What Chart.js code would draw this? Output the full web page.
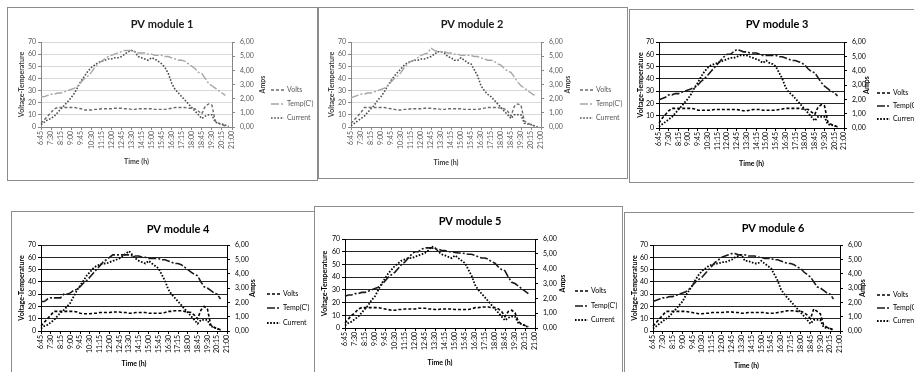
<!DOCTYPE html>
<html>
<head>
<meta charset="utf-8">
<script src="https://cdn.jsdelivr.net/npm/chart.js@4.4.1/dist/chart.umd.min.js"></script>
<style>
  html, body { margin: 0; padding: 0; background: #fff; width: 914px; height: 372px; overflow: hidden; }
  .panel { position: absolute; box-sizing: border-box; border: 1px solid #8c8c8c; background: #fff; }
  .panel canvas { position: absolute; left: 0; top: 0; }
</style>
</head>
<body>
<script>
// Time of day, one reading every 15 minutes
const times = ['6:45','7:00','7:15','7:30','7:45','8:00','8:15','8:30','8:45','9:00',
  '9:15','9:30','9:45','10:00','10:15','10:30','10:45','11:00','11:15','11:30',
  '11:45','12:00','12:15','12:30','12:45','13:00','13:15','13:30','13:45','14:00',
  '14:15','14:30','14:45','15:00','15:15','15:30','15:45','16:00','16:15','16:30',
  '16:45','17:00','17:15','17:30','17:45','18:00','18:15','18:30','18:45','19:00',
  '19:15','19:30','19:45','20:00','20:15','20:30','20:45','21:00'];

const voltTempTicks = [0, 10, 20, 30, 40, 50, 60, 70];
const ampTickLabels = ['0,00', '1,00', '2,00', '3,00', '4,00', '5,00', '6,00'];

// PV module 1
const volts1 = [3,6,9,12,15,16,16,16,16,16,16,15.5,15,14,14,14,14.5,14.5,15,15,15,15,15.5,15.5,15.5,15,15,14.5,14.5,15,15,15,15,15,14.5,14.5,14.5,14.5,15,15.5,16,16,16,16,15.5,15.5,15,13,11,17,19,18,5,3,2,1,null,null];
const temp1 = [25,25,26,27,27,28,28,29,30,31,32,34,37,40,42,45,49,52,54,56,58,59,60,61,62,63,63,63,62,61,61,61,60,60,59,59,59,58,58,57,56,55,55,54,52,50,48,45,44,40,36,34,32,30,28,26,null,null];
const current1 = [0.17,0.34,0.51,0.60,0.77,1.03,1.29,1.54,1.80,2.06,2.40,2.83,3.26,3.60,3.94,4.20,4.37,4.54,4.63,4.71,4.80,4.80,4.89,4.89,4.97,5.14,5.31,5.40,5.31,4.97,4.89,4.80,4.71,4.89,4.80,4.63,4.46,4.20,3.77,3.09,2.66,2.40,2.14,1.89,1.63,1.37,1.11,0.86,0.60,0.77,0.86,0.86,0.34,0.26,0.21,0.13,0.04,null];

// PV module 2
const volts2 = [3,6,9,12,16,16,16,16,16,16,16,15.5,15,14.5,14,14,14.5,14.5,15,15,15,15,15.5,15.5,15.5,15,15,14.5,14.5,15,15,15,15,15,14.5,14.5,14.5,14.5,14.5,15,15.5,16,16,16,16,15.5,15,13,9,17,19,18,5,3,2,1,null,null];
const temp2 = [24,25,26,27,27,28,28,29,30,31,32,34,37,40,42,45,49,52,54,55,57,59,60,61,65,63,62,62,62,61,61,60,60,59,59,59,59,58,58,57,56,55,55,54,52,51,48,46,45,41,37,34,32,30,28,26,null,null];
const current2 = [0.09,0.26,0.43,0.60,0.77,1.03,1.29,1.54,1.89,2.14,2.49,2.91,3.26,3.60,3.86,4.11,4.37,4.54,4.63,4.71,4.71,4.80,4.80,4.89,4.97,5.14,5.31,5.31,5.23,4.97,4.89,4.71,4.71,4.89,4.71,4.54,4.46,4.03,3.60,2.91,2.57,2.31,2.14,1.89,1.63,1.37,1.11,0.86,0.60,0.86,0.86,0.86,0.26,0.21,0.17,0.09,0.00,null];

// PV module 3
const volts3 = [4,8,11,14,16,16,16,16,16,16,16,15.5,14.5,14.5,14.5,14.5,14.5,15,15,15,15,15,15,15,15,14.5,14,14,14.5,15,15,15,14.5,14.5,14.5,14.5,14.5,15,15.5,16,16,16,16,16,15.5,15.5,15,13,11,17,19,18,5,3,2,1,null,null];
const temp3 = [23,24,25,27,27,28,28,29,30,31,32,33,35,38,40,43,46,49,52,55,58,60,60,62,64,63,62,62,61,61,61,60,59,59,59,59,59,58,58,57,56,55,55,54,53,51,48,46,45,41,37,34,32,30,29,26,null,null];
const current3 = [0.09,0.26,0.43,0.60,0.77,1.03,1.29,1.54,1.80,2.06,2.40,2.83,3.17,3.60,3.94,4.20,4.37,4.46,4.54,4.63,4.71,4.80,4.89,4.89,4.97,5.06,5.06,5.06,4.97,4.89,4.80,4.71,4.54,4.71,4.54,4.46,4.29,3.86,3.43,2.83,2.49,2.31,2.06,1.80,1.54,1.29,1.03,0.77,0.51,0.77,0.77,0.77,0.26,0.21,0.17,0.04,null,null];

// PV module 4
const volts4 = [4,7,10,13,16,16,16,16,16,16,16,15.5,14.5,14,14,14,14.5,14.5,15,15,15,15,15.5,15.5,15.5,15,15,14.5,14.5,15,15,15,15,14.5,14.5,14.5,14.5,14.5,15,16,16,16.5,16.5,16.5,16,15.5,15,13,10,17,20,18,5,3,2,1,null,null];
const temp4 = [24,24,26,27,27,27,27,30,30,31,33,34,36,39,41,44,47,50,53,56,58,60,62,62,62,62,62,62,61,61,61,60,60,59,59,59,59,58,58,57,56,55,55,54,52,50,48,46,45,40,36,35,33,31,30,26,null,null];
const current4 = [0.17,0.34,0.43,0.60,0.77,1.03,1.29,1.46,1.71,1.97,2.40,2.83,3.17,3.51,3.86,4.11,4.37,4.54,4.63,4.71,4.71,4.80,4.89,4.97,5.06,5.23,5.40,5.57,5.31,5.06,4.89,4.80,4.71,4.89,4.71,4.54,4.37,3.94,3.51,2.91,2.57,2.31,2.06,1.80,1.54,1.29,1.03,0.77,0.51,0.77,0.77,0.77,0.34,0.26,0.17,0.04,null,null];

// PV module 5
const volts5 = [4,7,10,12,15,16,16,16,16,16,16,15.5,15,14.5,14,14,14.5,14.5,15,15,15,15,15.5,15.5,15.5,15,15,14.5,14.5,15,15,15,15,14.5,14.5,14.5,14.5,14.5,15,16,16,16.5,16.5,16.5,16,16,15,13,9,13,14,12,5,3,2,1,null,null];
const temp5 = [25,26,26,27,27,28,28,29,30,31,32,34,37,40,42,44,47,50,52,55,58,60,60,62,63,63,63,62,62,61,61,60,60,59.5,59,59,58.5,58,58,57,56,55,55,54,52,51,48,46,45,40,36,35,33,31,29,27,null,null];
const current5 = [0.17,0.34,0.43,0.60,0.77,1.03,1.29,1.54,1.89,2.14,2.57,3.00,3.34,3.69,3.94,4.20,4.37,4.54,4.63,4.71,4.71,4.80,4.89,4.97,5.06,5.23,5.49,5.40,5.14,4.97,4.89,4.80,4.71,4.89,4.71,4.54,4.37,3.94,3.51,2.91,2.57,2.31,2.06,1.80,1.54,1.29,1.03,0.77,0.51,0.69,0.77,0.77,0.34,0.26,0.17,0.04,null,null];

// PV module 6
const volts6 = [4,7,10,13,16,16,16,16,16,16,16,15.5,15,14.5,14,14,14.5,14.5,15,15,15,15,15.5,15.5,15.5,15,15,14.5,14.5,15,15,15,15,15,15,14.5,14.5,14.5,15,15.5,16,16.5,16.5,16.5,16,16,15,13,10,18,16,14,5,3,2,1,null,null];
const temp6 = [24,25,26,27,27,28,28,29,30,31,32,34,37,40,42,44,47,50,53,56,58,60,61,62,63,63,62,62,62,61,61,61,60,60,59,59,59,58,58,57,56,55,55,54,52,51,48,46,44,40,36,35,33,31,30,26,null,null];
const current6 = [0.17,0.34,0.51,0.69,0.86,1.03,1.29,1.54,1.80,2.06,2.49,2.83,3.17,3.60,3.94,4.20,4.37,4.54,4.63,4.71,4.71,4.80,4.80,4.89,4.97,5.14,5.23,5.31,4.89,4.89,4.80,4.71,4.71,4.89,4.71,4.54,4.37,3.94,3.51,2.91,2.57,2.31,2.06,1.80,1.54,1.29,1.03,0.77,0.51,0.77,0.77,0.77,0.26,0.21,0.17,0.04,null,null];

const moduleTitles = ['PV module 1', 'PV module 2', 'PV module 3', 'PV module 4', 'PV module 5', 'PV module 6'];
const seriesLabels = ['Volts', "Temp(C')", 'Current'];

// Page layout of each panel (page pixels)
const layouts = [
  { box: [7, 7, 311, 174],    plot: [41, 232, 42, 127],   title: [162, 24],  yTitleX: 22,  ampsX: 263, legendX: 271, legendY: [90, 104, 118],  timeY: 162, theme: 'light' },
  { box: [318, 7, 310, 172],  plot: [351, 541, 42, 127],  title: [472, 24],  yTitleX: 332, ampsX: 568, legendX: 580, legendY: [90, 104, 118],  timeY: 163, theme: 'light' },
  { box: [629, 9, 310, 174],  plot: [659, 844, 42, 128],  title: [777, 24],  yTitleX: 641, ampsX: 867, legendX: 877, legendY: [93, 106, 119],  timeY: 164, theme: 'dark' },
  { box: [11, 211, 310, 175], plot: [41, 227, 245, 331],  title: [178, 229], yTitleX: 22,  ampsX: 253, legendX: 267, legendY: [294, 308, 323], timeY: 364, theme: 'dark' },
  { box: [314, 206, 309, 175], plot: [345, 535, 239, 328], title: [470, 221], yTitleX: 325, ampsX: 563, legendX: 575, legendY: [291, 306, 320], timeY: 363, theme: 'dark' },
  { box: [624, 212, 310, 175], plot: [653, 840, 245, 331], title: [773, 228], yTitleX: 635, ampsX: 863, legendX: 877, legendY: [295, 308, 321], timeY: 366, theme: 'dark' }
];

const themes = {
  light: { grid: '#d9d9d9', axis: '#868686', text: '#595959', title: '#1a1a1a', axisTitle: '#404040',
           volts: '#6b6b6b', temp: '#a6a6a6', current: '#4d4d4d', width: 1.4 },
  dark:  { grid: '#262626', axis: '#000000', text: '#000000', title: '#000000', axisTitle: '#000000',
           volts: '#000000', temp: '#1a1a1a', current: '#000000', width: 1.6 }
};

const FONT = "Lato, 'Open Sans', sans-serif";

// Title, secondary axis caption and the legend of each panel
const panelDecor = {
  id: 'panelDecor',
  afterDraw(chart, args, o) {
    const ctx = chart.ctx;
    const area = chart.chartArea;
    ctx.save();
    ctx.textBaseline = 'middle';
    ctx.textAlign = 'center';
    ctx.fillStyle = o.titleColor;
    ctx.font = 'bold 11px ' + FONT;
    ctx.fillText(o.title, o.titleX, o.titleY);

    ctx.save();
    ctx.translate(o.ampsX, (area.top + area.bottom) / 2);
    ctx.rotate(-Math.PI / 2);
    ctx.fillStyle = o.axisTitleColor;
    ctx.font = 'bold 7px ' + FONT;
    ctx.fillText('Amps', 0, 0);
    ctx.restore();

    chart.data.datasets.forEach((ds, i) => {
      const y = o.legendY[i];
      ctx.strokeStyle = ds.borderColor;
      ctx.lineWidth = ds.borderWidth;
      ctx.setLineDash(ds.borderDash || []);
      ctx.beginPath();
      ctx.moveTo(o.legendX, y);
      ctx.lineTo(o.legendX + 13, y);
      ctx.stroke();
      ctx.setLineDash([]);
      ctx.textAlign = 'left';
      ctx.fillStyle = o.legendColor;
      ctx.font = '7px ' + FONT;
      ctx.fillText(ds.label, o.legendX + 16, y);
    });
    ctx.restore();
  }
};

const seriesSets = [
  [volts1, temp1, current1],
  [volts2, temp2, current2],
  [volts3, temp3, current3],
  [volts4, temp4, current4],
  [volts5, temp5, current5],
  [volts6, temp6, current6]
];

layouts.forEach((L, k) => {
  const th = themes[L.theme];
  const [bx, by, bw, bh] = L.box;
  const ox = bx + 1, oy = by + 1;
  const W = bw - 2, H = bh - 2;
  const pl = L.plot[0] - ox, pr = L.plot[1] - ox, pt = L.plot[2] - oy, pb = L.plot[3] - oy;
  const yr = L.ampsX - L.plot[1] + 6;
  const xh = L.timeY - L.plot[3] + 4.2;

  const div = document.createElement('div');
  div.className = 'panel';
  div.style.left = bx + 'px';
  div.style.top = by + 'px';
  div.style.width = bw + 'px';
  div.style.height = bh + 'px';
  const cv = document.createElement('canvas');
  cv.width = W; cv.height = H;
  cv.style.width = W + 'px'; cv.style.height = H + 'px';
  div.appendChild(cv);
  document.body.appendChild(div);

  const [v, t, c] = seriesSets[k];
  const tickFont = { family: FONT, size: 7 };
  const titleFont = { family: FONT, size: 7, weight: 'bold' };

  new Chart(cv, {
    type: 'line',
    data: {
      labels: times,
      datasets: [
        { label: seriesLabels[0], data: v, yAxisID: 'y', borderColor: th.volts, borderWidth: th.width, borderDash: [3, 2] },
        { label: seriesLabels[1], data: t, yAxisID: 'y', borderColor: th.temp, borderWidth: th.width, borderDash: [8, 2, 2, 2] },
        { label: seriesLabels[2], data: c, yAxisID: 'y1', borderColor: th.current, borderWidth: th.width + 0.2, borderDash: [1.6, 1.6] }
      ]
    },
    options: {
      responsive: false,
      animation: false,
      devicePixelRatio: 1,
      elements: { point: { radius: 0 }, line: { tension: 0, fill: false } },
      layout: { padding: { left: 0, top: pt, right: W - pr - yr, bottom: H - pb - xh } },
      plugins: {
        legend: { display: false },
        title: { display: false },
        tooltip: { enabled: false },
        panelDecor: {
          title: moduleTitles[k], titleX: L.title[0] - ox, titleY: L.title[1] - oy,
          ampsX: L.ampsX - ox, legendX: L.legendX - ox, legendY: L.legendY.map(y => y - oy),
          titleColor: th.title, axisTitleColor: th.axisTitle, legendColor: th.text
        }
      },
      scales: {
        x: {
          type: 'category',
          offset: false,
          grid: {
            drawOnChartArea: false, drawTicks: true, tickLength: 3,
            tickColor: (ctx) => (ctx.index % 3 === 0 ? th.axis : 'rgba(0,0,0,0)')
          },
          border: { color: th.axis, width: 1 },
          ticks: {
            autoSkip: false, minRotation: 90, maxRotation: 90, padding: 1,
            font: tickFont, color: th.text,
            callback: (val, i) => (i % 3 === 0 ? times[i] : '')
          },
          title: { display: true, text: 'Time (h)', font: titleFont, color: th.axisTitle, padding: { top: 0, bottom: 0 } },
          afterFit: (s) => { s.height = xh; }
        },
        y: {
          position: 'left',
          min: voltTempTicks[0],
          max: voltTempTicks[voltTempTicks.length - 1],
          ticks: { stepSize: 10, autoSkip: false, font: tickFont, color: th.text, padding: 2 },
          grid: { color: th.grid, lineWidth: 1, tickLength: 3, tickColor: th.axis },
          border: { color: th.axis, width: 1 },
          title: { display: true, text: 'Voltage-Temperature', font: titleFont, color: th.axisTitle,
                   padding: { top: L.yTitleX - ox - 4.2, bottom: 0 } },
          afterFit: (s) => { s.width = pl; }
        },
        y1: {
          position: 'right',
          min: 0,
          max: 6,
          ticks: { stepSize: 1, autoSkip: false, font: tickFont, color: th.text, padding: 5,
                   callback: (val) => ampTickLabels[Math.round(val)] },
          grid: { drawOnChartArea: false, tickLength: 3, tickColor: th.axis },
          border: { color: th.axis, width: 1 },
          afterFit: (s) => { s.width = yr; }
        }
      }
    },
    plugins: [panelDecor]
  });
});
</script>
</body>
</html>
